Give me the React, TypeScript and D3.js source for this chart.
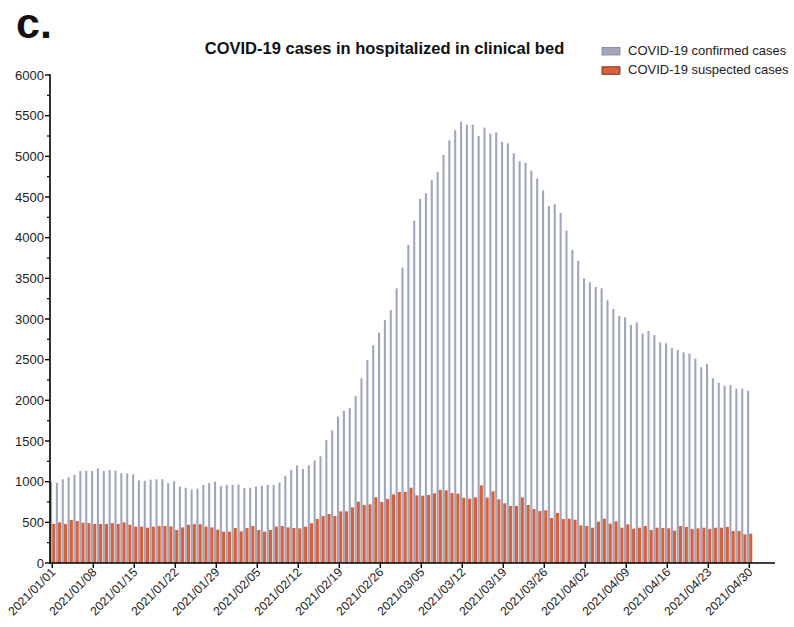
import React from "react";
import * as d3 from "d3";

const confirmed = [
  1000, 985, 1030, 1055, 1085, 1130, 1135, 1130, 1165, 1130,
  1145, 1135, 1105, 1100, 1090, 1015, 1010, 1025, 1030, 1030,
  985, 1005, 940, 925, 905, 915, 960, 985, 1000, 945,
  960, 960, 965, 920, 925, 940, 950, 960, 960, 990,
  1074, 1144, 1201, 1156, 1201, 1262, 1312, 1512, 1631, 1799,
  1869, 1906, 2053, 2271, 2496, 2677, 2832, 2988, 3111, 3377,
  3631, 3910, 4209, 4476, 4545, 4709, 4808, 5017, 5197, 5320,
  5426, 5390, 5390, 5250, 5353, 5279, 5295, 5180, 5160, 5037,
  4939, 4922, 4824, 4726, 4582, 4390, 4410, 4303, 4086, 3849,
  3717, 3500, 3451, 3394, 3377, 3230, 3123, 3037, 3021, 2926,
  2959, 2820, 2853, 2803, 2713, 2701, 2643, 2619, 2590, 2574,
  2512, 2406, 2447, 2271, 2217, 2180, 2189, 2143, 2143, 2119,
];

const suspected = [
  480, 500, 480, 529, 516, 496, 490, 480, 480, 480,
  490, 480, 500, 471, 447, 447, 434, 447, 455, 455,
  451, 406, 438, 471, 477, 477, 447, 438, 410, 385,
  385, 430, 390, 430, 455, 406, 385, 406, 447, 455,
  438, 430, 426, 447, 488, 541, 578, 602, 578, 635,
  635, 684, 754, 713, 721, 807, 750, 787, 844, 873,
  873, 926, 832, 828, 836, 857, 898, 894, 861, 853,
  803, 791, 807, 955, 803, 881, 783, 734, 701, 701,
  807, 713, 664, 639, 648, 553, 615, 541, 545, 533,
  463, 455, 434, 508, 545, 484, 512, 434, 475, 422,
  434, 455, 406, 434, 430, 426, 398, 455, 443, 418,
  426, 434, 418, 434, 434, 443, 393, 393, 352, 361,
];

const xTickLabels = [
  "2021/01/01", "2021/01/08", "2021/01/15", "2021/01/22", "2021/01/29",
  "2021/02/05", "2021/02/12", "2021/02/19", "2021/02/26", "2021/03/05",
  "2021/03/12", "2021/03/19", "2021/03/26", "2021/04/02", "2021/04/09",
  "2021/04/16", "2021/04/23", "2021/04/30",
];
const yTicks = [0, 500, 1000, 1500, 2000, 2500, 3000, 3500, 4000, 4500, 5000, 5500, 6000];
const seriesNames = ["COVID-19 confirmed cases", "COVID-19 suspected cases"];

const GREY = "#a0a6bb";
const ORANGE = "#d8603c";
const FONT = "'Liberation Sans', Arial, sans-serif";

export default function App() {
  const W = 794, H = 627;
  const x = d3.scaleLinear().domain([0, 119]).range([52.3, 749.3]);
  const y = d3.scaleLinear().domain([0, 6000]).range([563, 75]);
  const minor = d3.range(250, 6000, 500);
  const axisX = 50;
  return (
    <svg width={W} height={H} style={{ position: "absolute", left: 0, top: 0, fontFamily: FONT }}>
      <rect width={W} height={H} fill="#fff" />
      <text x={16} y={38} fontSize={43} fontWeight="bold" fill="#111">c.</text>
      <text x={384.5} y={54} fontSize={16.5} fontWeight="bold" textAnchor="middle" fill="#111">
        COVID-19 cases in hospitalized in clinical bed
      </text>
      {/* legend */}
      <rect x={602} y={47.5} width={18} height={7.5} fill={GREY} stroke="#7d8296" strokeWidth={0.8} />
      <text x={628} y={55.3} fontSize={13} fill="#222">{seriesNames[0]}</text>
      <rect x={602} y={66.8} width={18} height={7.5} fill={ORANGE} stroke="#5a2010" strokeWidth={0.8} />
      <text x={628} y={74.3} fontSize={13} fill="#222">{seriesNames[1]}</text>
      {/* bars */}
      {confirmed.map((v, i) => (
        <rect key={"c" + i} x={x(i) - 2.3} y={y(v)} width={2.1} height={y(0) - y(v)} fill={GREY} />
      ))}
      {suspected.map((v, i) => (
        <rect key={"s" + i} x={x(i) - 0.1} y={y(v)} width={3.1} height={y(0) - y(v)} fill={ORANGE} />
      ))}
      {/* y axis */}
      <line x1={axisX} x2={axisX} y1={y(6000) - 0.8} y2={y(0) + 0.8} stroke="#000" strokeWidth={1.6} />
      {yTicks.map((t) => (
        <g key={"y" + t}>
          <line x1={axisX - 5} x2={axisX} y1={y(t)} y2={y(t)} stroke="#000" strokeWidth={1.4} />
          <text x={axisX - 6} y={y(t) + 4.5} fontSize={13} textAnchor="end" fill="#222">{t}</text>
        </g>
      ))}
      {minor.map((t) => (
        <line key={"m" + t} x1={axisX - 3} x2={axisX} y1={y(t)} y2={y(t)} stroke="#000" strokeWidth={1.2} />
      ))}
      {/* x axis */}
      <line x1={axisX - 0.8} x2={775} y1={y(0)} y2={y(0)} stroke="#000" strokeWidth={1.6} />
      {xTickLabels.map((lab, k) => {
        const tx = x(k * 7);
        return (
          <g key={"x" + k}>
            <line x1={tx} x2={tx} y1={y(0)} y2={y(0) + 5} stroke="#000" strokeWidth={1.4} />
            <text
              transform={`translate(${tx + 4},${y(0) + 10}) rotate(-45)`}
              fontSize={12.2}
              textAnchor="end"
              fill="#222"
            >
              {lab}
            </text>
          </g>
        );
      })}
    </svg>
  );
}
